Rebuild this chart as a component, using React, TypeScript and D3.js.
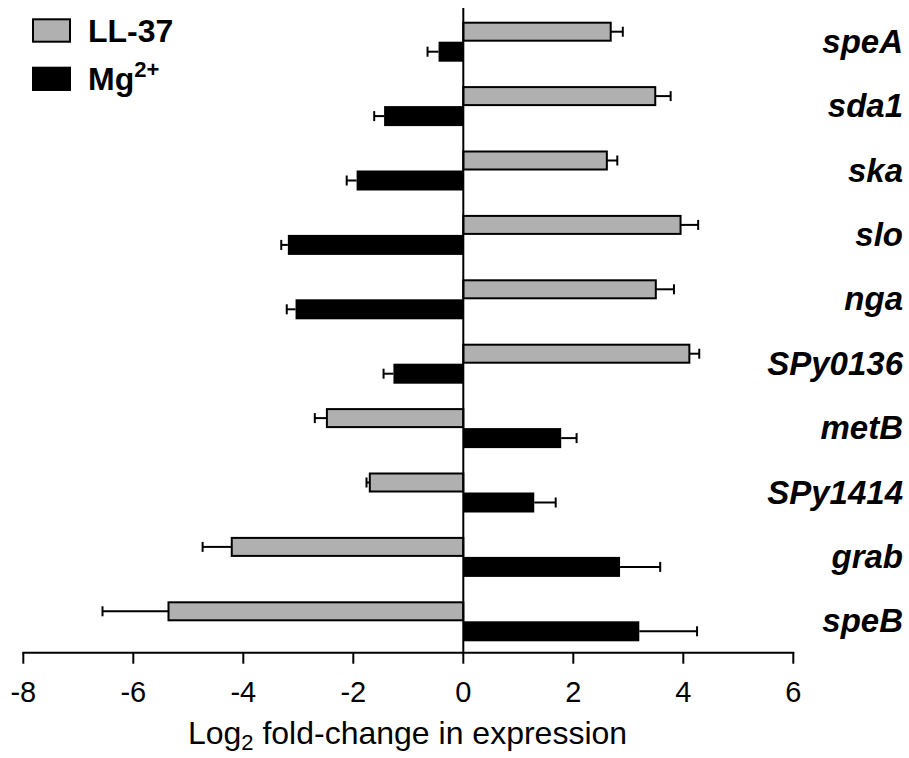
import React from "react";
import * as d3 from "d3";

const genes = ["speA", "sda1", "ska", "slo", "nga", "SPy0136", "metB", "SPy1414", "grab", "speB"];
const ll37 = [2.68, 3.49, 2.61, 3.95, 3.5, 4.11, -2.48, -1.7, -4.21, -5.36];
const ll37Err = [0.22, 0.28, 0.19, 0.32, 0.33, 0.18, 0.22, 0.06, 0.53, 1.2];
const mg = [-0.45, -1.44, -1.94, -3.19, -3.05, -1.27, 1.78, 1.29, 2.85, 3.2];
const mgErr = [0.2, 0.18, 0.18, 0.12, 0.16, 0.18, 0.28, 0.39, 0.73, 1.05];
const xTicks = [-8, -6, -4, -2, 0, 2, 4, 6];

const FONT = "'Liberation Sans', Arial, Helvetica, sans-serif";

export default function App() {
  const x = d3.scaleLinear().domain([-8, 6]).range([23.3, 793.3]);
  const y = d3.scaleBand<string>().domain(genes).range([9.5, 653.5]).padding(0);
  const axisY = 652.7;
  const half = 20;

  const errBar = (v: number, e: number, cy: number, key: string) => {
    const end = v >= 0 ? v + e : v - e;
    return (
      <g key={key}>
        <line x1={x(v)} x2={x(end)} y1={cy} y2={cy} stroke="#000" strokeWidth={2} />
        <line x1={x(end)} x2={x(end)} y1={cy - 5} y2={cy + 5} stroke="#000" strokeWidth={2} />
      </g>
    );
  };

  return (
    <svg width={909} height={758} style={{ position: "absolute", left: 0, top: 0, background: "#fff" }}>
      {genes.map((g, i) => {
        const c = (y(g) as number) + y.bandwidth() / 2;
        const v1 = ll37[i];
        const v2 = mg[i];
        return (
          <g key={g}>
            {errBar(v1, ll37Err[i], c - half / 2, g + "e1")}
            {errBar(v2, mgErr[i], c + half / 2, g + "e2")}
            <rect
              x={Math.min(x(0), x(v1))}
              y={c - half + 1}
              width={Math.abs(x(v1) - x(0))}
              height={half - 2}
              fill="#b0b0b0"
              stroke="#000"
              strokeWidth={2}
            />
            <rect
              x={Math.min(x(0), x(v2))}
              y={c}
              width={Math.abs(x(v2) - x(0))}
              height={half}
              fill="#000"
            />
            <text
              x={903}
              y={c + 11}
              textAnchor="end"
              fontFamily={FONT}
              fontWeight="bold"
              fontStyle="italic"
              fontSize={33}
              fill="#000"
            >
              {g}
            </text>
          </g>
        );
      })}

      {/* zero line */}
      <line x1={x(0)} x2={x(0)} y1={8} y2={axisY} stroke="#000" strokeWidth={2} />

      {/* x axis */}
      <line x1={x(-8) - 1} x2={x(6) + 1} y1={axisY} y2={axisY} stroke="#000" strokeWidth={2} />
      {xTicks.map((t) => (
        <g key={t}>
          <line x1={x(t)} x2={x(t)} y1={axisY} y2={axisY + 11} stroke="#000" strokeWidth={2} />
          <text x={x(t)} y={702} textAnchor="middle" fontFamily={FONT} fontSize={29} fill="#000">
            {t}
          </text>
        </g>
      ))}
      <text x={407.5} y={744} textAnchor="middle" fontFamily={FONT} fontSize={32} fill="#000">
        Log
        <tspan fontSize={22} dy={6}>2</tspan>
        <tspan dy={-6}> fold-change in expression</tspan>
      </text>

      {/* legend */}
      <rect x={33} y={19.3} width={37} height={22.4} fill="#b0b0b0" stroke="#000" strokeWidth={2} />
      <text x={88} y={41.7} fontFamily={FONT} fontWeight="bold" fontSize={32} fill="#000">
        LL-37
      </text>
      <rect x={32} y={66.7} width={39} height={24.3} fill="#000" />
      <text x={88} y={90} fontFamily={FONT} fontWeight="bold" fontSize={32} fill="#000">
        Mg
        <tspan fontSize={22} dy={-13}>2+</tspan>
      </text>
    </svg>
  );
}
